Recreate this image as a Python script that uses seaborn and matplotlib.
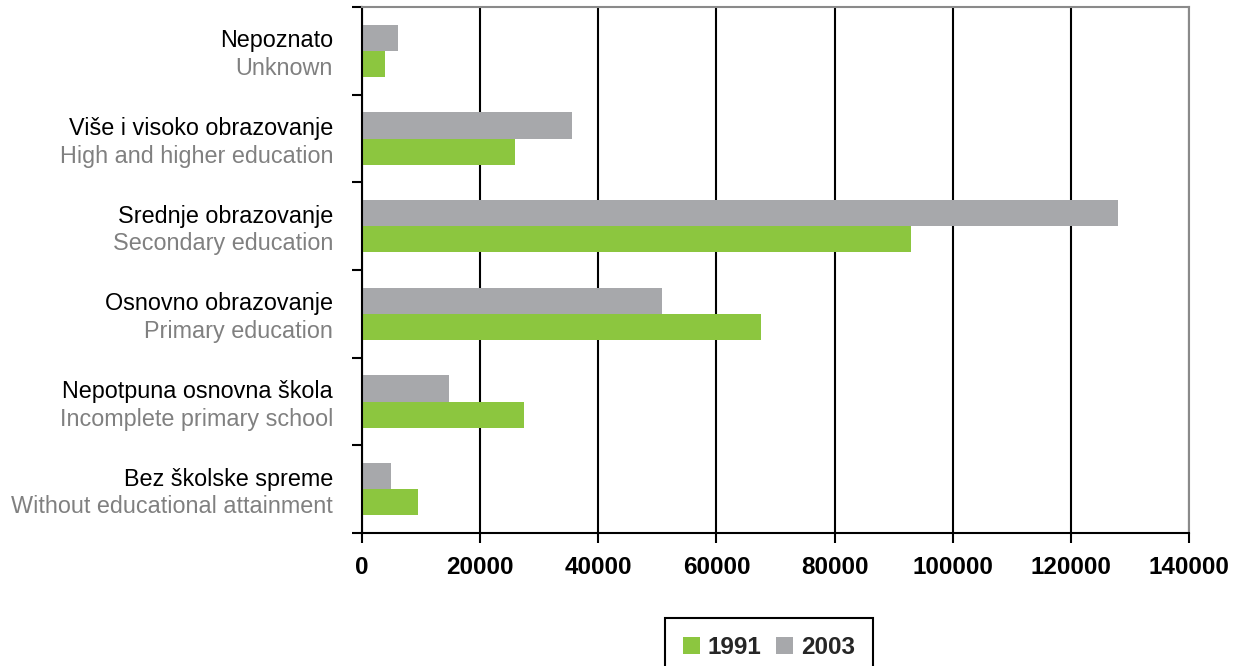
import numpy as np
import pandas as pd
import matplotlib
matplotlib.use('Agg')
import matplotlib.pyplot as plt
import matplotlib.transforms as mtransforms
from matplotlib.patches import Patch
import seaborn as sns

categories_sr = ["Nepoznato", "Više i visoko obrazovanje", "Srednje obrazovanje",
                 "Osnovno obrazovanje", "Nepotpuna osnovna škola", "Bez školske spreme"]
categories_en = ["Unknown", "High and higher education", "Secondary education",
                 "Primary education", "Incomplete primary school", "Without educational attainment"]
years = ["1991", "2003"]
values_1991 = [3850, 25850, 92900, 67600, 27350, 9450]
values_2003 = [6100, 35550, 128000, 50800, 14700, 4950]
xticks = [0, 20000, 40000, 60000, 80000, 100000, 120000, 140000]

sns.set_theme(style="white")
plt.rcParams['font.family'] = ['Liberation Sans', 'DejaVu Sans']

df = pd.DataFrame({
    "category": categories_sr * 2,
    "year": [years[0]] * len(categories_sr) + [years[1]] * len(categories_sr),
    "value": values_1991 + values_2003,
})

GREEN = "#8CC63F"
GRAY = "#A7A8AB"
palette = {"1991": GREEN, "2003": GRAY}

fig = plt.figure(figsize=(12.35, 6.66), dpi=100)
ax = fig.add_axes([362 / 1235, 1 - 533 / 666, 827 / 1235, 526 / 666])

sns.barplot(data=df, y="category", x="value", hue="year", hue_order=["2003", "1991"],
            order=categories_sr, palette=palette, width=0.6, orient="h", ax=ax,
            legend=False, saturation=1, linewidth=0, errorbar=None)

ax.set_xlim(0, 140000)
ax.set_ylim(len(categories_sr) - 0.5, -0.5)
ax.set_xlabel("")
ax.set_ylabel("")

ax.set_axisbelow(True)
ax.xaxis.grid(True, color="black", linewidth=1.5)
ax.yaxis.grid(False)

ax.set_xticks(xticks)
ax.set_xticklabels([str(t) for t in xticks], fontsize=17.5, fontweight="bold")
ax.tick_params(axis="x", bottom=True, direction="out", length=7.2, width=1.5,
               color="black", pad=9, labelcolor="black")

ax.set_yticks(range(len(categories_sr)))
ax.set_yticklabels([])
ax.tick_params(axis="y", which="major", left=False, length=0)
ax.set_yticks(np.arange(-0.5, len(categories_sr), 1), minor=True)
ax.tick_params(axis="y", which="minor", left=True, direction="out", length=7.2,
               width=1.5, color="black")

for s in ["left", "bottom"]:
    ax.spines[s].set_color("black")
    ax.spines[s].set_linewidth(1.5)
for s in ["top", "right"]:
    ax.spines[s].set_color("#8a8a8a")
    ax.spines[s].set_linewidth(1.5)
    ax.spines[s].set_visible(True)

trans = mtransforms.blended_transform_factory(ax.transAxes, ax.transData)
for i, (sr, en) in enumerate(zip(categories_sr, categories_en)):
    ax.text(-0.035, i - 0.04, sr, transform=trans, ha="right", va="baseline",
            fontsize=16.8, color="black")
    ax.text(-0.035, i + 0.275, en, transform=trans, ha="right", va="baseline",
            fontsize=16.8, color="#808080")

handles = [Patch(facecolor=GREEN, edgecolor="none"), Patch(facecolor=GRAY, edgecolor="none")]
leg = fig.legend(handles, years, loc="upper center",
                 bbox_to_anchor=(769 / 1235, 1 - 618 / 666), ncol=2, frameon=True,
                 fancybox=False, edgecolor="black", framealpha=1,
                 prop={"weight": "bold", "size": 17.5}, handlelength=0.7,
                 handleheight=0.7, handletextpad=0.33, columnspacing=0.6,
                 borderpad=0.75, borderaxespad=0)
leg.get_frame().set_linewidth(1.5)

fig.savefig("out.png", dpi=100)
